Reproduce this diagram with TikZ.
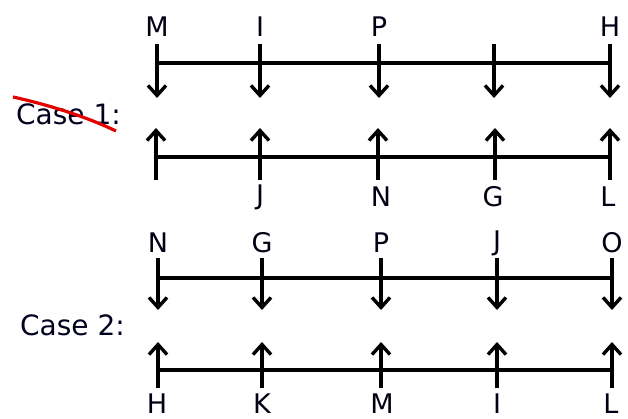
\documentclass[tikz,border=0pt]{standalone}
\usepackage{fontspec}
\setmainfont{DejaVu Sans}
\usetikzlibrary{arrows.meta}
\begin{document}
\begin{tikzpicture}[x=1pt,y=-1pt,
  axis/.style={line width=3.4pt,draw=black},
  tick/.style={line width=3.4pt,draw=black,-{Straight Barb[length=10pt,width=18pt]}},
  lbl/.style={font=\fontsize{27}{30}\selectfont,text=black!92!blue,inner sep=0pt},
  case/.style={font=\fontsize{28}{32}\selectfont,text=black!88!blue,inner sep=0pt,anchor=west},
  strike/.style={draw=red!90!black,line width=3.2pt}]
\useasboundingbox[fill=white] (0,0) rectangle (628,419);

% Case 1, top row
\coordinate (t1L) at (157,63);
\coordinate (t1R) at (610,63);
\draw[axis] (t1L) -- (t1R);
\foreach \x/\l [count=\i] in {157/M,260/I,379/P,610/H} {
  \node[lbl] (t1lab\i) at (\x,27) {\l};
}
\foreach \x [count=\i] in {157,260,379,494,610} {
  \coordinate (t1s\i) at (\x,44);
  \coordinate (t1e\i) at (\x,98);
  \draw[tick] (t1s\i) -- (t1e\i);
}

% Case 1, bottom row
\coordinate (b1L) at (156,157);
\coordinate (b1R) at (610,157);
\draw[axis] (b1L) -- (b1R);
\foreach \x [count=\i] in {156,260,378,495,610} {
  \coordinate (b1s\i) at (\x,180);
  \coordinate (b1e\i) at (\x,128);
  \draw[tick] (b1s\i) -- (b1e\i);
}
\foreach \x/\l [count=\i] in {260/J,381/N,493/G,608/L} {
  \node[lbl] (b1lab\i) at (\x,197) {\l};
}

% Case 2, top row
\coordinate (t2L) at (158,278);
\coordinate (t2R) at (612,278);
\draw[axis] (t2L) -- (t2R);
\foreach \x/\l [count=\i] in {158/N,262/G,381/P,497/J,612/O} {
  \node[lbl] (t2lab\i) at (\x,243) {\l};
  \coordinate (t2s\i) at (\x,258);
  \coordinate (t2e\i) at (\x,310);
  \draw[tick] (t2s\i) -- (t2e\i);
}

% Case 2, bottom row
\coordinate (b2L) at (158,370);
\coordinate (b2R) at (612,370);
\draw[axis] (b2L) -- (b2R);
\foreach \x/\l [count=\i] in {157/H,262/K,382/M,497/I,611/L} {
  \node[lbl] (b2lab\i) at (\x,404) {\l};
}
\foreach \x [count=\i] in {158,262,381,497,612} {
  \coordinate (b2s\i) at (\x,388);
  \coordinate (b2e\i) at (\x,342);
  \draw[tick] (b2s\i) -- (b2e\i);
}

% Case labels
\node[case] (case1) at (16,114) {Case 1:};
\node[case] (case2) at (20,325) {Case 2:};

% red strike-through
\coordinate (s1) at (13,97);
\coordinate (s2) at (116,131);
\draw[strike] (s1) .. controls (45,104) and (85,116) .. (s2);
\end{tikzpicture}
\end{document}
